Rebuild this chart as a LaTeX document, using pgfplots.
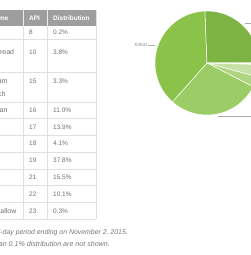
\documentclass[border=0pt]{standalone}
\usepackage{pgfplots}
\pgfplotsset{compat=1.18}
\usepackage{fontspec}
\setmainfont{Liberation Sans}
\definecolor{cFroyo}{HTML}{DCEDC8}
\definecolor{cGB}{HTML}{C5E1A5}
\definecolor{cICS}{HTML}{AED581}
\definecolor{cJB}{HTML}{9CCC65}
\definecolor{cKK}{HTML}{8BC34A}
\definecolor{cLP}{HTML}{7CB342}
\definecolor{cMM}{HTML}{D4E9BC}
\definecolor{hdr}{HTML}{9E9E9E}
\definecolor{gridc}{HTML}{E0E0E0}
\definecolor{txt}{HTML}{707070}
\definecolor{note}{HTML}{777777}
\definecolor{lbl}{HTML}{888888}
\begin{document}
\begin{tikzpicture}
\useasboundingbox (0pt,0pt) rectangle (251pt,255pt);
\clip (0pt,0pt) rectangle (251pt,255pt);
\begin{scope}[shift={(0pt,255pt)}, x={(1pt,0pt)}, y={(0pt,-1pt)},
  cell/.style={inner sep=0pt, text height=4.7pt, text depth=0pt, text=txt, font=\fontsize{6.5}{7.5}\selectfont},
  name/.style={inner sep=0pt, text height=5pt, text depth=0pt, text=txt, anchor=west, font=\fontsize{7}{8}\selectfont},
  head/.style={inner sep=0pt, text height=4.7pt, text depth=0pt, text=white, font=\fontsize{6.5}{7.5}\selectfont\bfseries}]
  % header
  \fill[hdr] (-40,10) rectangle (96,26);
  \draw[white!80!hdr, line width=0.5pt] (23,10)--(23,26) (47,10)--(47,26);
  \node[head, anchor=west] at (-25,18) {Codename};
  \node[head, anchor=west] at (29,18) {API};
  \node[head, anchor=west] at (53,18) {Distribution};
  % grid
  \foreach \y in {39,72,102,118,135,152,169,185,202,219}
    \draw[gridc, line width=0.5pt] (-40,\y)--(96,\y);
  \draw[gridc, line width=0.5pt] (23,26)--(23,219) (47,26)--(47,219) (96,10)--(96,219);
  % names
  \node[name] at (-25,32.5) {Froyo};
  \node[name] at (-25,52) {Gingerbread};
  \node[name] at (-25,81) {Ice Cream};
  \node[name] at (-25,94) {Sandwich};
  \node[name] at (-25,110) {Jelly Bean};
  \node[name] at (-25,160.5) {KitKat};
  \node[name] at (-25,177.3) {Lollipop};
  \node[name] at (-25,210.7) {Marshmallow};
  % API and distribution
  \foreach \y/\api/\dist in {32.5/8/0.2\%, 52/10/3.8\%, 81/15/3.3\%, 110/16/11.0\%, 126.7/17/13.9\%,
      143.3/18/4.1\%, 160.5/19/37.8\%, 177.3/21/15.5\%, 194/22/10.1\%, 210.7/23/0.3\%}{
    \node[cell, anchor=west] at (29,\y) {\api};
    \node[cell, anchor=west] at (53,\y) {\dist};
  }
  % footnotes
  \node[inner sep=0pt, anchor=east, text=note, font=\fontsize{6.9}{8}\selectfont\itshape] at (128,233)
    {Data collected during a 7-day period ending on November 2, 2015.};
  \node[inner sep=0pt, anchor=east, text=note, font=\fontsize{7.1}{8}\selectfont\itshape] at (110,245)
    {Any versions with less than 0.1\% distribution are not shown.};
  % pie labels
  \draw[lbl!70!white, line width=0.4pt] (148,45)--(155,45);
  \node[inner sep=0pt, anchor=east, text=lbl, font=\fontsize{4.6}{5}\selectfont] at (147,45) {KitKat};
  \draw[lbl!70!white, line width=0.4pt] (245,23)--(262,23);
  \node[inner sep=0pt, anchor=west, text=lbl, font=\fontsize{4.6}{5}\selectfont] at (263,23) {Lollipop};
  \draw[lbl!70!white, line width=0.4pt] (218,116)--(262,116);
  \node[inner sep=0pt, anchor=west, text=lbl, font=\fontsize{4.6}{5}\selectfont] at (263,116) {Jelly Bean};
\end{scope}
\begin{axis}[hide axis, scale only axis, x=52pt, y=52pt,
    xmin=-1, xmax=1, ymin=-1, ymax=1, clip=false,
    at={(207pt,192pt)}, anchor=center]
  \xdef\angA{91}
  \foreach \v/\c in {0.2/cFroyo,3.8/cGB,3.3/cICS,29.0/cJB,37.8/cKK,25.6/cLP,0.3/cMM}{
    \pgfmathsetmacro\angB{\angA+3.6*\v}
    \edef\tmp{\noexpand\addplot[fill=\c, draw=white, line width=0.5pt, domain=\angA:\angB, samples=61]
      ({sin(x)},{cos(x)}) -- (axis cs:0,0) -- cycle;}
    \tmp
    \xdef\angA{\angB}
  }
\end{axis}
\end{tikzpicture}
\end{document}
